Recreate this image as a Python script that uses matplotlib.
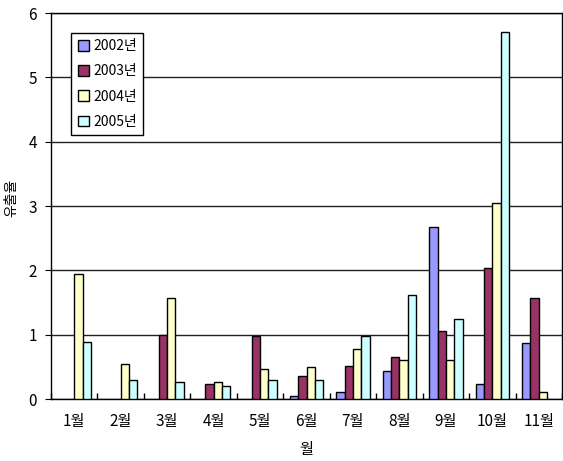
import matplotlib
matplotlib.use("Agg")
import matplotlib.pyplot as plt
import numpy as np

plt.rcParams['font.family'] = ['Noto Sans CJK KR', 'DejaVu Sans']

months = ['1월', '2월', '3월', '4월', '5월', '6월', '7월', '8월', '9월', '10월', '11월']
series_names = ['2002년', '2003년', '2004년', '2005년']
v2002 = [0, 0, 0, 0, 0, 0.05, 0.11, 0.44, 2.67, 0.23, 0.87]
v2003 = [0, 0, 1.00, 0.23, 0.98, 0.35, 0.51, 0.66, 1.05, 2.03, 1.57]
v2004 = [1.95, 0.54, 1.57, 0.27, 0.47, 0.50, 0.77, 0.60, 0.61, 3.05, 0.11]
v2005 = [0.89, 0.30, 0.27, 0.20, 0.29, 0.30, 0.98, 1.61, 1.25, 5.70, 0]
colors = ['#9999FF', '#993366', '#FFFFCC', '#CCFFFF']
yticks = [0, 1, 2, 3, 4, 5, 6]

fig = plt.figure(figsize=(5.63, 4.61), dpi=100)
ax = fig.add_axes([51/563, 1-399/461, 511/563, 386/461])

x = np.arange(len(months))
w = 0.18
data = [v2002, v2003, v2004, v2005]
for i, (vals, c, name) in enumerate(zip(data, colors, series_names)):
    vv = np.array(vals, dtype=float)
    mask = vv > 0
    ax.bar(x[mask] + (i - 1.5) * w, vv[mask], width=w, color=c, edgecolor='black',
           linewidth=1, label=name, zorder=3)

ax.set_xlim(-0.5, len(months) - 0.5)
ax.set_ylim(0, 6)
ax.set_yticks(yticks)
ax.yaxis.grid(True, color='#222222', linewidth=1)
ax.set_axisbelow(True)
ax.set_xticks(x)
ax.set_xticklabels(months, fontsize=11)
ax.set_xticks(np.arange(-0.5, len(months), 1), minor=True)
ax.tick_params(axis='x', which='major', length=0, pad=10)
ax.tick_params(axis='x', which='minor', length=4, direction='in', width=1)
ax.tick_params(axis='y', length=4, direction='out', labelsize=11, pad=6)
for s in ax.spines.values():
    s.set_linewidth(1)
    s.set_color('black')

ax.set_xlabel('월', fontsize=11, labelpad=8)
ax.set_ylabel('유출율', fontsize=10)
ax.yaxis.set_label_coords(-0.064, 0.52)

leg = ax.legend(loc='upper left', bbox_to_anchor=(0.04, 0.948), fontsize=10,
                handlelength=0.8, handleheight=0.8, handletextpad=0.3,
                labelspacing=0.8, borderpad=0.45, fancybox=False,
                edgecolor='black', framealpha=1, borderaxespad=0)
leg.get_frame().set_linewidth(1)

fig.savefig('out.png', dpi=100)
